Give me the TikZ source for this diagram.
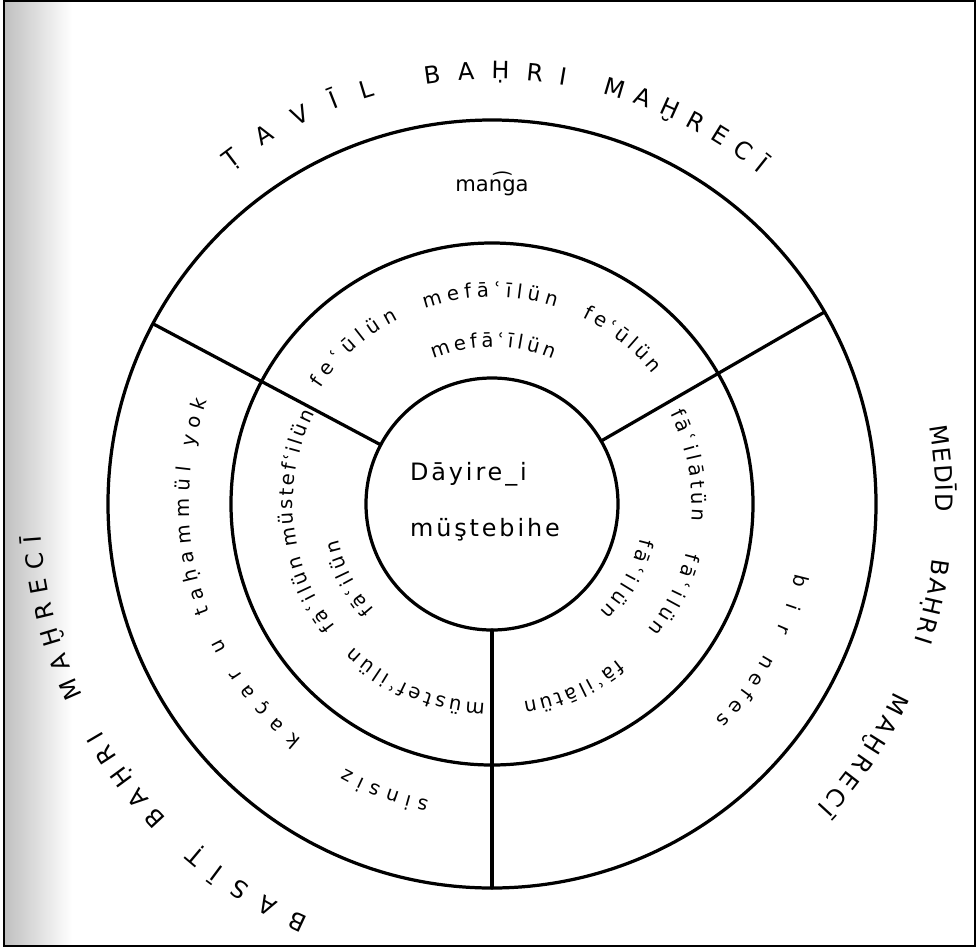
\documentclass[tikz,border=0pt]{standalone}
\usepackage{fontspec}
\setmainfont{DejaVu Sans}
\usetikzlibrary{decorations.text}
\newcommand\ringfont{\fontsize{14}{14}\selectfont}
\newcommand\capsfont{\fontsize{17}{17}\selectfont}
\begin{document}
\begin{tikzpicture}[x=0.025cm,y=0.025cm,
    ring/.style={decorate,decoration={text along path,text align=fit to path,text={|\ringfont|#1}}},
    ringmid/.style={decorate,decoration={text along path,text align=center,text={|\ringfont|#1}}},
    caps/.style={decorate,decoration={text along path,text align=fit to path,text={|\capsfont|#1}}},
    line/.style={line width=2.3pt,line cap=round}]
\useasboundingbox (-492,-445) rectangle (485,504);
\shade[left color=black!25,right color=white] (-488,-442) rectangle (-420,503);
\draw[line width=1.4pt] (-488,-442) rectangle (483,503);

% rings and dividers
\coordinate (c) at (0,0);
\draw[line] (c) circle (126);
\draw[line] (c) circle (261);
\draw[line] (c) circle (384);
\draw[line] (30:126) -- (30:384);
\draw[line] (152:126) -- (152:384);
\draw[line] (270:126) -- (270:384);

% centre
\node[align=left,font=\fontsize{17}{40}\selectfont\addfontfeatures{LetterSpace=12}] (dayire) at (-7,2) {Dāyire\_i\\müştebihe};

% Tavil
\path[caps=ṬAVĪL] (128:425) arc[start angle=128,end angle=106,radius=425];
\path[caps=BAḤRI] (99:425) arc[start angle=99,end angle=80,radius=425];
\path[caps=MAḪRECĪ] (75:425) arc[start angle=75,end angle=51,radius=425];
\node[font=\fontsize{15}{15}\selectfont] (manga) at (0,320) {man͡ga};
\path[ring=feʿūlün] (146:207) arc[start angle=146,end angle=117,radius=207];
\path[ring=mefāʿīlün] (109:207) arc[start angle=109,end angle=72,radius=207];
\path[ring=feʿūlün] (64:207) arc[start angle=64,end angle=39,radius=207];
\path[ring=mefāʿīlün] (112:157) arc[start angle=112,end angle=67,radius=157];

% Medid
\path[caps=MEDĪD] (10:444) arc[start angle=10,end angle=-1,radius=444];
\path[caps=BAḤRI] (-7:444) arc[start angle=-7,end angle=-18,radius=444];
\path[caps=MAḪRECĪ] (-25:444) arc[start angle=-25,end angle=-43,radius=444];
\path[ring=fāʿilātün] (27:200) arc[start angle=27,end angle=-5,radius=200];
\path[ring=fāʿilün] (-14:200) arc[start angle=-14,end angle=-39,radius=200];
\path[ring=fāʿilātün] (-51:200) arc[start angle=-51,end angle=-81,radius=200];
\path[ring=fāʿilün] (-13:152) arc[start angle=-13,end angle=-45,radius=152];
\path[ring=bir] (-13:311) arc[start angle=-13,end angle=-24,radius=311];
\path[ring=nefes] (-29:311) arc[start angle=-29,end angle=-44,radius=311];

% Basit
\path[caps=BASĪṬ] (246:452) arc[start angle=246,end angle=229,radius=452];
\path[caps=BAḤRI] (224:452) arc[start angle=224,end angle=210,radius=452];
\path[caps=MAḪRECĪ] (205:452) arc[start angle=205,end angle=184,radius=452];
\path[ring=müstefʿilün] (268:199) arc[start angle=268,end angle=226,radius=199];
\path[ring=fāʿilün] (218:199) arc[start angle=218,end angle=195,radius=199];
\path[ring=müstefʿilün] (192:199) arc[start angle=192,end angle=153,radius=199];
\path[ring=fāʿilün] (222:158) arc[start angle=222,end angle=193,radius=158];
\path[ring=sinsiz] (258:303) arc[start angle=258,end angle=241,radius=303];
\path[ring=kaçar] (231:303) arc[start angle=231,end angle=213,radius=303];
\path[ringmid=u] (212:303) arc[start angle=212,end angle=203,radius=303];
\path[ring=taḥammül yok] (201:303) arc[start angle=201,end angle=160,radius=303];
\end{tikzpicture}
\end{document}
